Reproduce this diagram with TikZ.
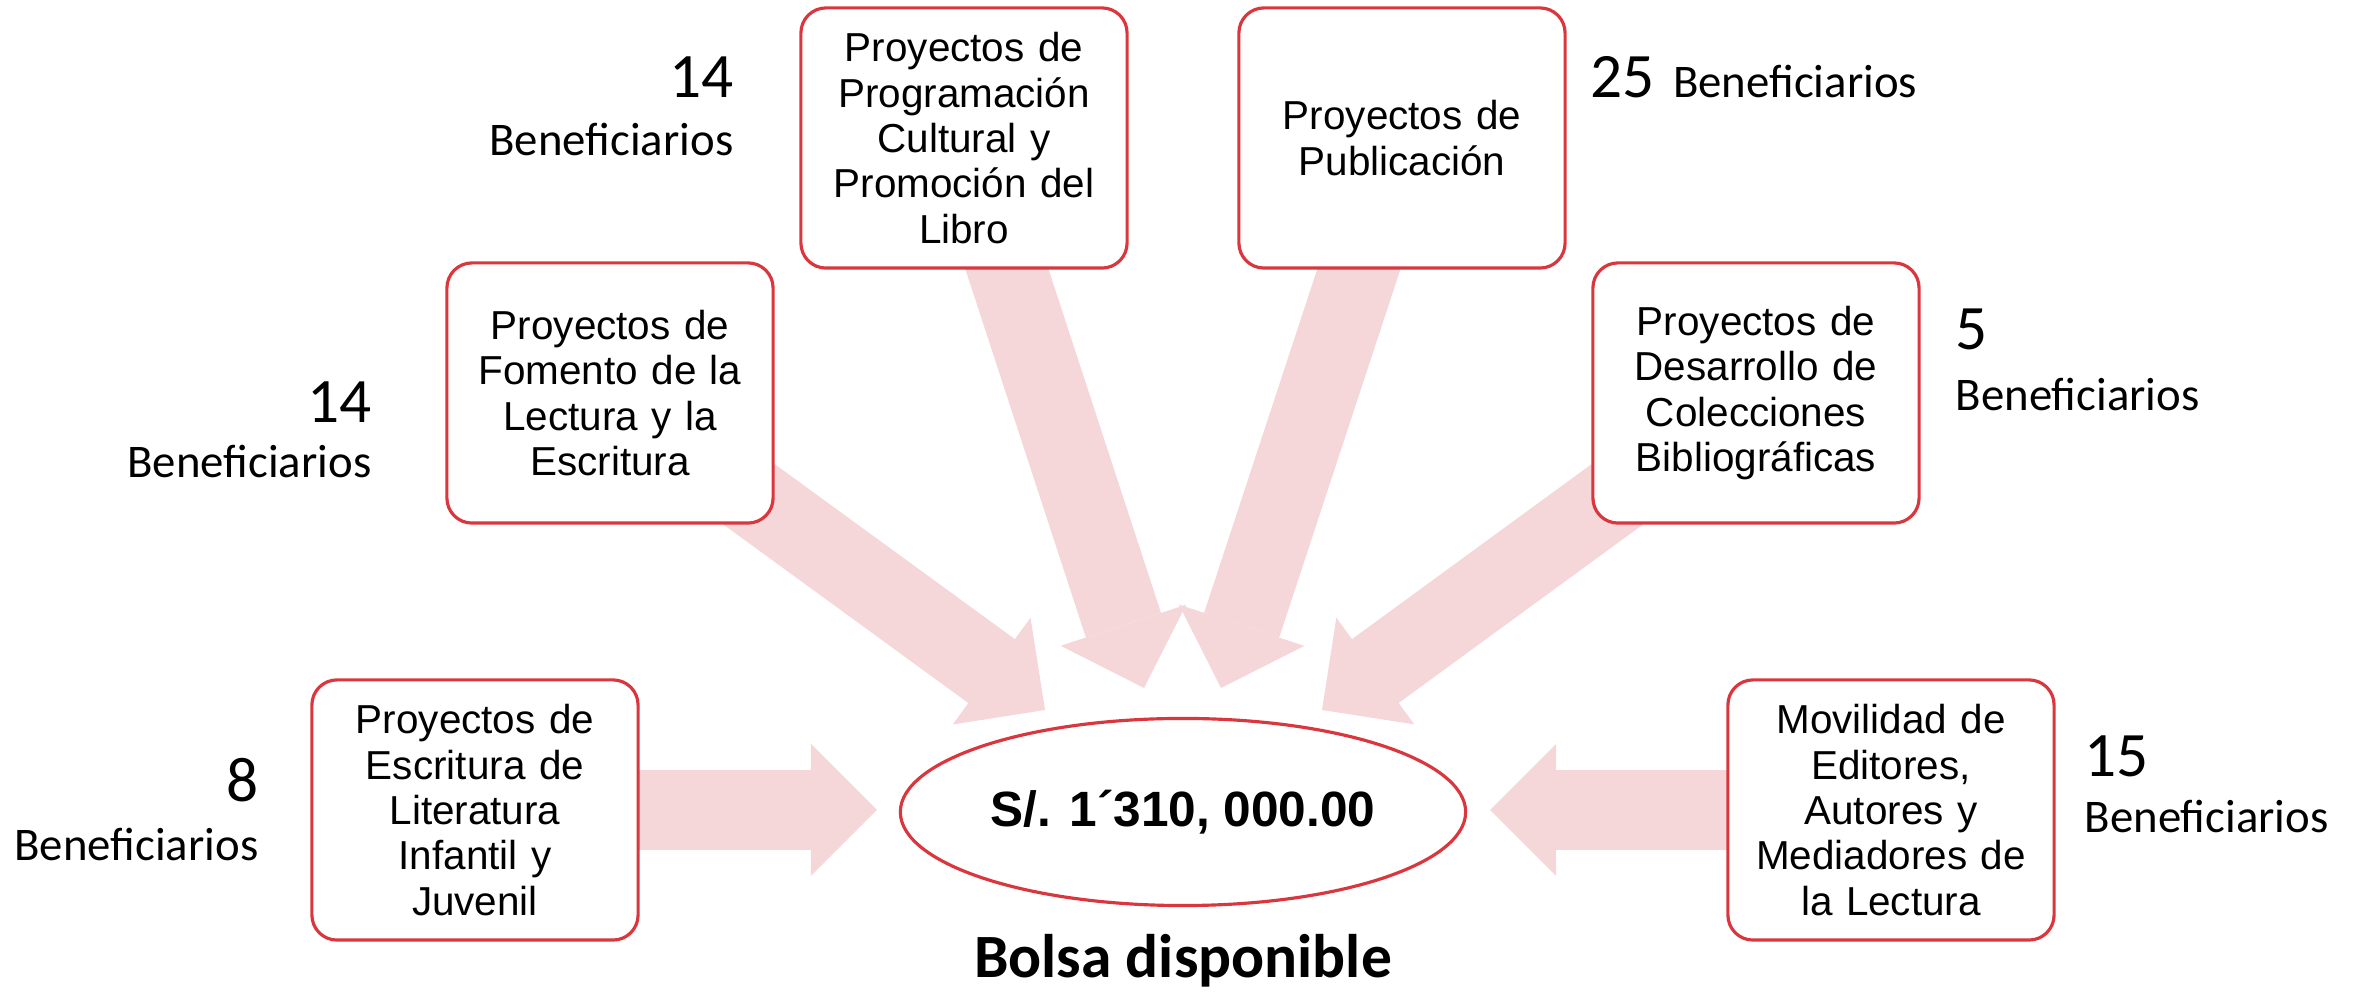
\documentclass[tikz,border=0pt]{standalone}
\usepackage{fontspec}
\setmainfont{Liberation Sans}
\newfontfamily\calibri{Carlito}
\usetikzlibrary{shapes.geometric,arrows.meta,backgrounds}
\definecolor{rosa}{RGB}{245,214,217}
\definecolor{rojo}{RGB}{218,54,62}
\tikzset{
  caja/.style={draw=rojo, line width=0.9pt, fill=white, rounded corners=0.25cm,
    minimum width=3.26cm, minimum height=2.6cm, text width=3.1cm, align=center,
    inner sep=0pt, font=\fontsize{11.5}{12.9}\selectfont},
  bolsa/.style={draw=rojo, line width=0.9pt, fill=white, ellipse,
    minimum width=5.65cm, minimum height=1.87cm, inner sep=0pt,
    font=\fontsize{14.1}{17}\selectfont\bfseries},
  flecha/.style={draw=rosa, line width=0.79cm,
    -{Triangle[width=1.32cm, length=0.66cm, line width=0pt]}},
  num/.style={inner sep=0pt, font=\calibri\fontsize{18}{21}\selectfont},
  benef/.style={inner sep=0pt, font=\calibri\fontsize{13.3}{16}\selectfont}
}
\begin{document}
\begin{tikzpicture}[x=0.01cm, y=-0.01cm]
\useasboundingbox (0,0) rectangle (2359,995);
\node[caja] (prog) at (964,138) {Proyectos de\\Programación\\Cultural y\\Promoción del\\Libro};
\node[caja] (pub)  at (1402,138) {Proyectos de\\Publicación};
\node[caja] (fom)  at (610,393) {Proyectos de\\Fomento de la\\Lectura y la\\Escritura};
\node[caja] (des)  at (1756,393) {Proyectos de\\Desarrollo de\\Colecciones\\Bibliográficas};
\node[caja] (esc)  at (475,810) {Proyectos de\\Escritura de\\Literatura\\Infantil y\\Juvenil};
\node[caja] (mov)  at (1891,810) {Movilidad de\\Editores,\\Autores y\\Mediadores de\\la Lectura};
\node[bolsa] (monto) at (1183,812) {S/. 1´310, 000.00};
\node[anchor=base, inner sep=0pt, font=\calibri\fontsize{17.5}{21}\selectfont\bfseries]
  (titulo) at (1183,978) {Bolsa disponible};
\coordinate (pProg) at (1144,688);
\coordinate (pPub)  at (1221,688);
\coordinate (pFom)  at (1045,710);
\coordinate (pDes)  at (1322,710);
\coordinate (pEsc)  at (877,810);
\coordinate (pMov)  at (1490,810);
\begin{scope}[on background layer]
\draw[flecha] (prog.center) -- (pProg);
\draw[flecha] (pub.center) -- (pPub);
\draw[flecha] (fom.center) -- (pFom);
\draw[flecha] (des.center) -- (pDes);
\draw[flecha] (esc.center) -- (pEsc);
\draw[flecha] (mov.center) -- (pMov);
\end{scope}
\node[num, anchor=base east]   (nProg) at (734,98) {14};
\node[benef, anchor=base east] (bProg) at (734,156) {Beneficiarios};
\node[benef, anchor=base west] (bPub) at (1590,98) {{\fontsize{18}{21}\selectfont 25}\, Beneficiarios};
\node[num, anchor=base east]   (nFom) at (372,423) {14};
\node[benef, anchor=base east] (bFom) at (372,478) {Beneficiarios};
\node[num, anchor=base west]   (nDes) at (1955,350) {5};
\node[benef, anchor=base west] (bDes) at (1955,411) {Beneficiarios};
\node[num, anchor=base east]   (nEsc) at (259,802) {8};
\node[benef, anchor=base east] (bEsc) at (259,861) {Beneficiarios};
\node[num, anchor=base west]   (nMov) at (2084,777) {15};
\node[benef, anchor=base west] (bMov) at (2084,833) {Beneficiarios};
\end{tikzpicture}
\end{document}
